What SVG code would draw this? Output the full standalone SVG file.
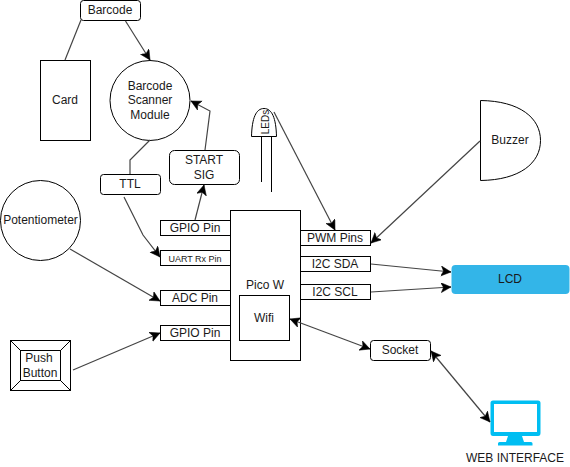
<svg xmlns="http://www.w3.org/2000/svg" width="570" height="467" viewBox="0 0 570 467">
<style>
.s{fill:#fff;stroke:#000;stroke-width:1}
.t{font-family:"Liberation Sans",Arial,sans-serif;font-size:12px;fill:#1a1a1a;text-anchor:middle}
.c{fill:none;stroke:#444;stroke-width:1.2}
.a{marker-end:url(#h)}
.b{marker-start:url(#hs);marker-end:url(#h)}
</style>
<defs>
<marker id="h" markerUnits="userSpaceOnUse" markerWidth="12" markerHeight="12" refX="10" refY="5" orient="auto"><path d="M0 0L10 5L0 10L2.500 5Z" fill="#000" stroke="#000" stroke-width="0.5"/></marker>
<marker id="hs" markerUnits="userSpaceOnUse" markerWidth="12" markerHeight="12" refX="10" refY="5" orient="auto-start-reverse"><path d="M0 0L10 5L0 10L2.500 5Z" fill="#000" stroke="#000" stroke-width="0.5"/></marker>
</defs>
<rect width="570" height="467" fill="#fff"/>
<g id="barcode"><rect class="s" x="80.500" y="0.500" width="60" height="20" rx="3"/><text class="t" x="110" y="14">Barcode</text></g>
<g id="card"><rect class="s" x="40.500" y="60.500" width="50" height="80"/><text class="t" x="65" y="104">Card</text></g>
<g id="scanner"><circle class="s" cx="150" cy="100.500" r="40"/><text class="t" x="150" y="90">Barcode</text><text class="t" x="150" y="104">Scanner</text><text class="t" x="150" y="119">Module</text></g>
<g id="ttl"><rect class="s" x="100.500" y="174.500" width="60" height="20" rx="3"/><text class="t" x="130" y="188">TTL</text></g>
<g id="start"><rect class="s" x="169.500" y="150.500" width="70" height="34" rx="5"/><text class="t" x="204" y="164">START</text><text class="t" x="204" y="179">SIG</text></g>
<g id="leds"><path fill="none" stroke="#000" d="M261.500 136V182M271.500 136V192"/><path class="s" d="M251.500 136.500C252 118 256 108.500 264 108.500C272 108.500 276 118 276.500 136.500Z"/><text class="t" transform="translate(269 122) rotate(-90)" style="font-size:10px">LEDs</text></g>
<g id="buzzer"><path class="s" d="M480.500 100.500C520 101 540.500 118 540.500 140.500C540.500 163 520 180 480.500 180.500Z"/><text class="t" x="510" y="144">Buzzer</text></g>
<g id="potentiometer"><circle class="s" cx="40.500" cy="220.500" r="40"/><text class="t" x="40.500" y="224">Potentiometer</text></g>
<g id="pico"><rect class="s" x="230.500" y="210.500" width="70" height="150"/><text class="t" x="265" y="289">Pico W</text></g>
<g id="wifi"><rect class="s" x="239.500" y="295.500" width="50" height="45"/><text class="t" x="264" y="322">Wifi</text></g>
<g id="gpio1"><rect class="s" x="160.500" y="220.500" width="70" height="15"/><text class="t" x="195" y="232">GPIO Pin</text></g>
<g id="uart"><rect class="s" x="160.500" y="250.500" width="70" height="15"/><text class="t" x="195" y="262" style="font-size:9px">UART Rx Pin</text></g>
<g id="adc"><rect class="s" x="160.500" y="290.500" width="70" height="15"/><text class="t" x="195" y="302">ADC Pin</text></g>
<g id="gpio2"><rect class="s" x="160.500" y="325.500" width="70" height="15"/><text class="t" x="195" y="337">GPIO Pin</text></g>
<g id="pwm"><rect class="s" x="300.500" y="230.500" width="70" height="15"/><text class="t" x="335" y="242">PWM Pins</text></g>
<g id="sda"><rect class="s" x="300.500" y="256.500" width="70" height="15"/><text class="t" x="335" y="268">I2C SDA</text></g>
<g id="scl"><rect class="s" x="300.500" y="284.500" width="70" height="15"/><text class="t" x="335" y="296">I2C SCL</text></g>
<g id="lcd"><rect x="451.500" y="265" width="118" height="29" rx="4" fill="#33b5e8"/><text class="t" x="510" y="283">LCD</text></g>
<g id="button"><rect class="s" x="10.500" y="340.500" width="60" height="50"/><rect class="s" x="20.500" y="350.500" width="40" height="30"/><path class="s" d="M10.500 340.500L20.500 350.500M70.500 340.500L60.500 350.500M10.500 390.500L20.500 380.500M70.500 390.500L60.500 380.500"/><text class="t" x="39" y="362">Push</text><text class="t" x="40" y="377">Button</text></g>
<g id="socket"><rect class="s" x="370.500" y="340.500" width="60" height="20" rx="3"/><text class="t" x="400" y="354">Socket</text></g>
<g id="web"><path fill="#00bef2" fill-rule="evenodd" d="M493 400.500H538Q540.500 400.500 540.500 403V433Q540.500 436 538 436H522L524 442H531Q532.500 442 532.500 443.500V445.500H498V443.500Q498 442 499.500 442H506L508 436H493Q490.500 436 490.500 433V403Q490.500 400.500 493 400.500ZM494 404V432H537V404Z"/><text class="t" x="515" y="462">WEB INTERFACE</text></g>
<g id="connectors">
<path class="c" d="M81 20L65 60"/>
<path class="c a" d="M125.500 21L150 60"/>
<path class="c a" d="M205 150L210 111L191 101"/>
<path class="c" d="M150 140L130 160V174"/>
<path class="c a" d="M195 220L204 185"/>
<path class="c a" d="M124 197L143 235L160 257"/>
<path class="c a" d="M70 249L160 301"/>
<path class="c a" d="M73 370L160 333"/>
<path class="c a" d="M274 112L335 230"/>
<path class="c a" d="M480 141L371 243"/>
<path class="c a" d="M371 264L451 272"/>
<path class="c a" d="M371 292L451 287"/>
<path class="c b" d="M290 319L370 349"/>
<path class="c b" d="M431 351L490 422"/>
</g>
</svg>
